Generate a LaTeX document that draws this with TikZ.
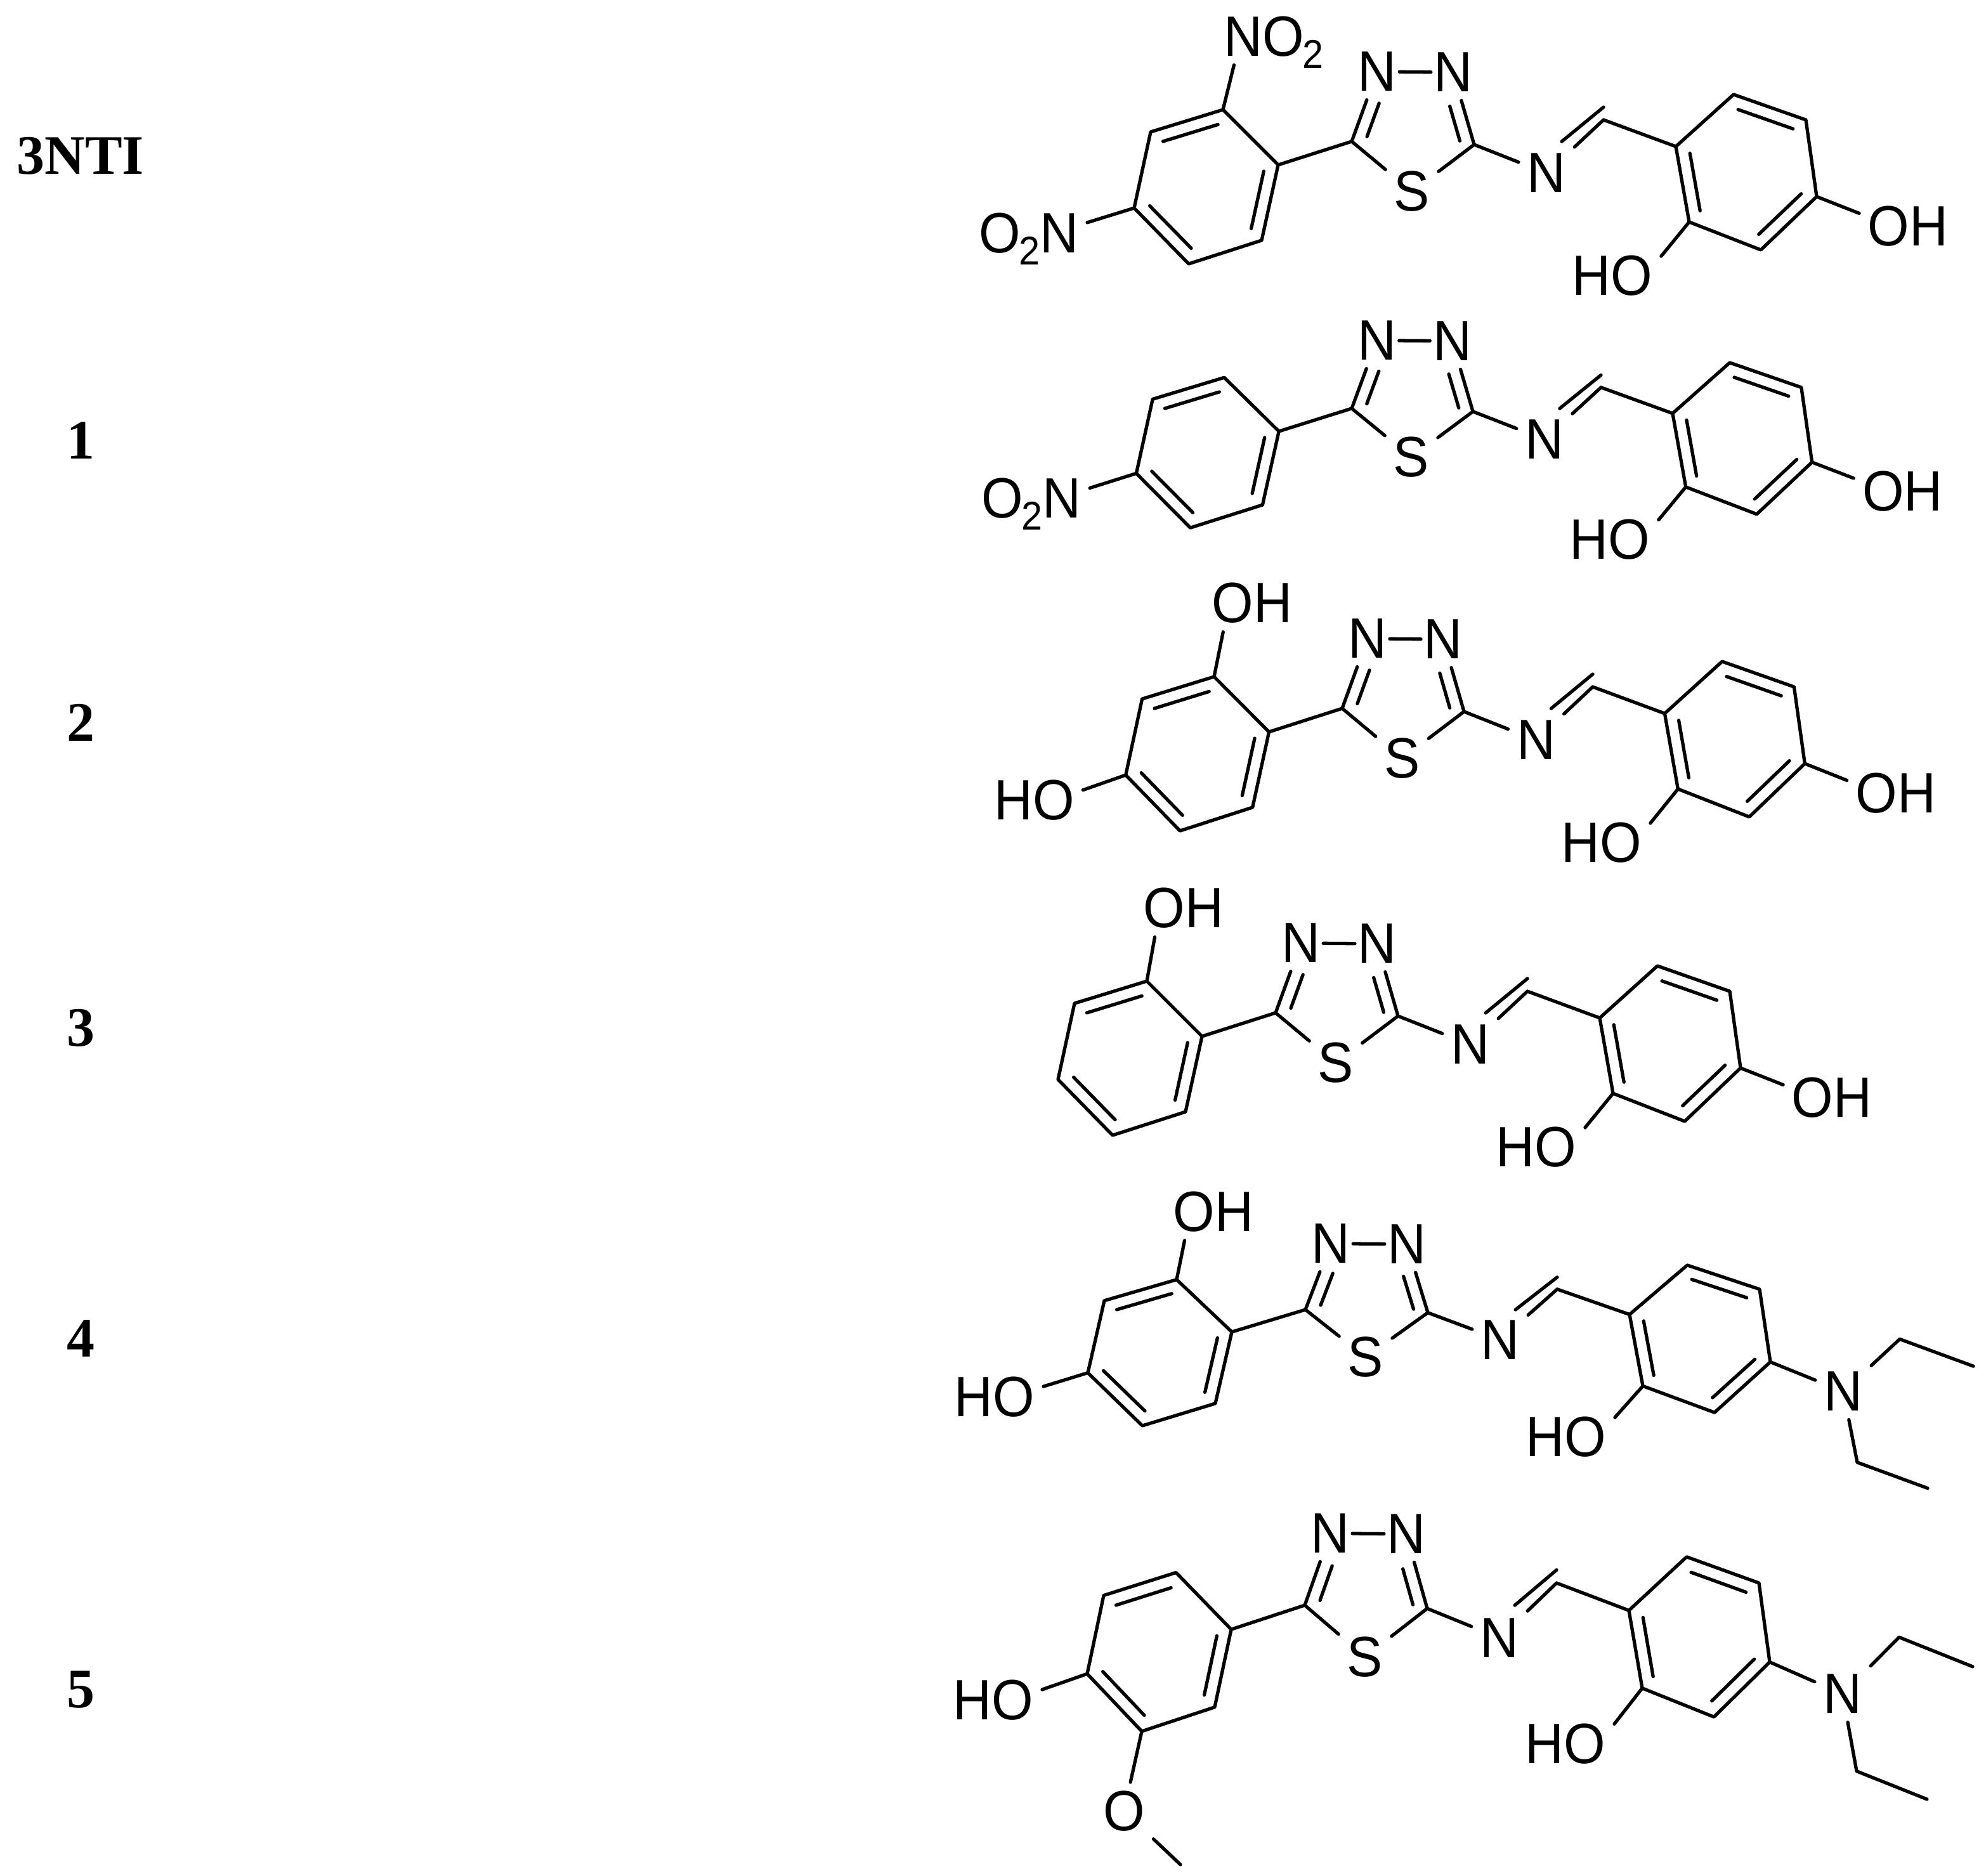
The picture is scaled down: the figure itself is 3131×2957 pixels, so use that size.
\documentclass[tikz,border=0pt]{standalone}
\usepackage{fontspec}
\setmainfont{Liberation Sans}[FakeStretch=0.94]
\newfontfamily\labelfont{Liberation Serif}
\usetikzlibrary{calc}
\tikzset{
    atom/.style={inner sep=0.13cm, font=\fontsize{25.5}{25.5}\selectfont},
    bond/.style={line width=1.5pt, line cap=round, line join=round},
    cmpd/.style={inner sep=0pt, font=\labelfont\bfseries\fontsize{25}{25}\selectfont}
}
\newcommand{\subtwo}{\smash{\raisebox{-0.19cm}{\fontsize{18}{18}\selectfont 2}}}
% second line of a double bond, on the left of #1 -> #2, from fraction #3 to #4
\newcommand{\inbond}[4]{\draw[bond] ($(#1)!#3!(#2)!0.2cm!90:(#2)$) -- ($(#1)!#4!(#2)!0.2cm!90:(#2)$);}
\newcommand{\thiacore}{
    \coordinate (c7) at (0, 0);
    \coordinate (c8) at (193, 5);
    \coordinate (ch) at (397, -34);
    \coordinate (a1) at (-203, -50);
    \coordinate (a2) at (-317, -15);
    \coordinate (a3) at (-343, 105);
    \coordinate (a4) at (-257, 193);
    \coordinate (a5) at (-142, 156);
    \coordinate (a6) at (-116, 37);
    \coordinate (b1) at (511, 8);
    \coordinate (b2) at (602, -74);
    \coordinate (b3) at (716, -34);
    \coordinate (b4) at (733, 87);
    \coordinate (b5) at (645, 171);
    \coordinate (b6) at (532, 127);
    \node[atom] (n1) at (40, -110) {N};
    \node[atom] (n2) at (160, -109) {N};
    \node[atom] (s1) at (95, 79) {S};
    \node[atom] (n3) at (307, 50) {N};
    \draw[bond] (a1) -- (a2) -- (a3) -- (a4) -- (a5) -- (a6) -- cycle;
    \draw[bond] (b1) -- (b2) -- (b3) -- (b4) -- (b5) -- (b6) -- cycle;
    \inbond{a1}{a2}{0.12}{0.88}
    \inbond{a3}{a4}{0.12}{0.88}
    \inbond{a5}{a6}{0.12}{0.88}
    \inbond{b3}{b2}{0.12}{0.88}
    \inbond{b5}{b4}{0.12}{0.88}
    \inbond{b1}{b6}{0.12}{0.88}
    \draw[bond] (a6) -- (c7);
    \draw[bond] (c7) -- (n1);
    \draw[bond] (c8) -- (n2);
    \draw[bond, shorten <=-0.09cm, shorten >=-0.09cm] (n1) -- (n2);
    \draw[bond] (c7) -- (s1);
    \draw[bond] (c8) -- (s1);
    \draw[bond] (c8) -- (n3);
    \draw[bond] (n3) -- (ch);
    \draw[bond] (ch) -- (b1);
    \inbond{n1}{c7}{0.39}{0.87}
    \inbond{c8}{n2}{0.10}{0.58}
    \inbond{n3}{ch}{0.42}{1}
}
% hydroxy on b4 and b6
\newcommand{\resorcinol}{
    \node[atom] (oh4) at (877, 134) {OH};
    \node[atom] (oh6) at (411, 212) {HO};
    \draw[bond] (b4) -- (oh4.165);
    \draw[bond] (b6) -- (oh6.22);
}
% diethylamino on b4, hydroxy on b6
\newcommand{\aminophenol}{
    \node[atom] (oh6) at (411, 212) {HO};
    \node[atom] (n4) at (848, 136) {N};
    \coordinate (e1) at (937, 49);
    \coordinate (e2) at (1053, 94);
    \coordinate (e3) at (870, 254);
    \coordinate (e4) at (981, 297);
    \draw[bond] (b6) -- (oh6.22);
    \draw[bond] (b4) -- (n4);
    \draw[bond] (n4) -- (e1) -- (e2);
    \draw[bond] (n4) -- (e3) -- (e4);
}
\begin{document}
\begin{tikzpicture}[x=0.01cm, y=-0.01cm]
    \useasboundingbox (0, 0) rectangle (3131, 2957);
    \node[cmpd] (t0) at (127, 246) {3NTI};
    \node[cmpd] (t1) at (127, 694) {1};
    \node[cmpd] (t2) at (127, 1139) {2};
    \node[cmpd] (t3) at (127, 1621) {3};
    \node[cmpd] (t4) at (127, 2111) {4};
    \node[cmpd] (t5) at (127, 2664) {5};
    % 3NTI
    \begin{scope}[name prefix=m0-, shift={(2131, 223)}]
        \thiacore
        \resorcinol
        \node[atom, anchor=base west] (no) at (-215, -135) {NO\kern-0.03cm\subtwo};
        \node[atom, anchor=base east] (on) at (-417, 175) {O\kern-0.03cm\subtwo N};
        \draw[bond] (a1) -- (no.216);
        \draw[bond] (a3) -- (on.10);
    \end{scope}
    % 1
    \begin{scope}[name prefix=m1-, shift={(2131, 644)}, xscale=0.99, yscale=0.975]
        \thiacore
        \resorcinol
        \node[atom, anchor=base east] (on) at (-417, 177) {O\kern-0.03cm\subtwo N};
        \draw[bond] (a3) -- (on.10);
    \end{scope}
    % 2
    \begin{scope}[name prefix=m2-, shift={(2116, 1117)}, xscale=0.995]
        \thiacore
        \resorcinol
        \node[atom] (oh1) at (-143, -166) {OH};
        \node[atom] (oh3) at (-488, 145) {HO};
        \draw[bond] (a1) -- (oh1.225);
        \draw[bond] (a3) -- (oh3.12);
    \end{scope}
    % 3
    \begin{scope}[name prefix=m3-, shift={(2011, 1597)}]
        \thiacore
        \resorcinol
        \node[atom] (oh1) at (-145, -165) {OH};
        \draw[bond] (a1) -- (oh1.225);
    \end{scope}
    % 4
    \begin{scope}[name prefix=m4-, shift={(2058, 2065)}, yscale=0.948]
        \thiacore
        \aminophenol
        \node[atom] (oh1) at (-145, -163) {OH};
        \node[atom] (oh3) at (-490, 145) {HO};
        \draw[bond] (a1) -- (oh1.225);
        \draw[bond] (a3) -- (oh3.12);
    \end{scope}
    % 5
    \begin{scope}[name prefix=m5-, shift={(2057, 2531)}, yscale=1.03]
        \thiacore
        \aminophenol
        \node[atom] (oh3) at (-491, 145) {HO};
        \node[atom] (o5) at (-285, 315) {O};
        \coordinate (me) at (-196, 397);
        \draw[bond] (a3) -- (oh3.12);
        \draw[bond] (a4) -- (o5);
        \draw[bond] (o5) -- (me);
    \end{scope}
\end{tikzpicture}
\end{document}
